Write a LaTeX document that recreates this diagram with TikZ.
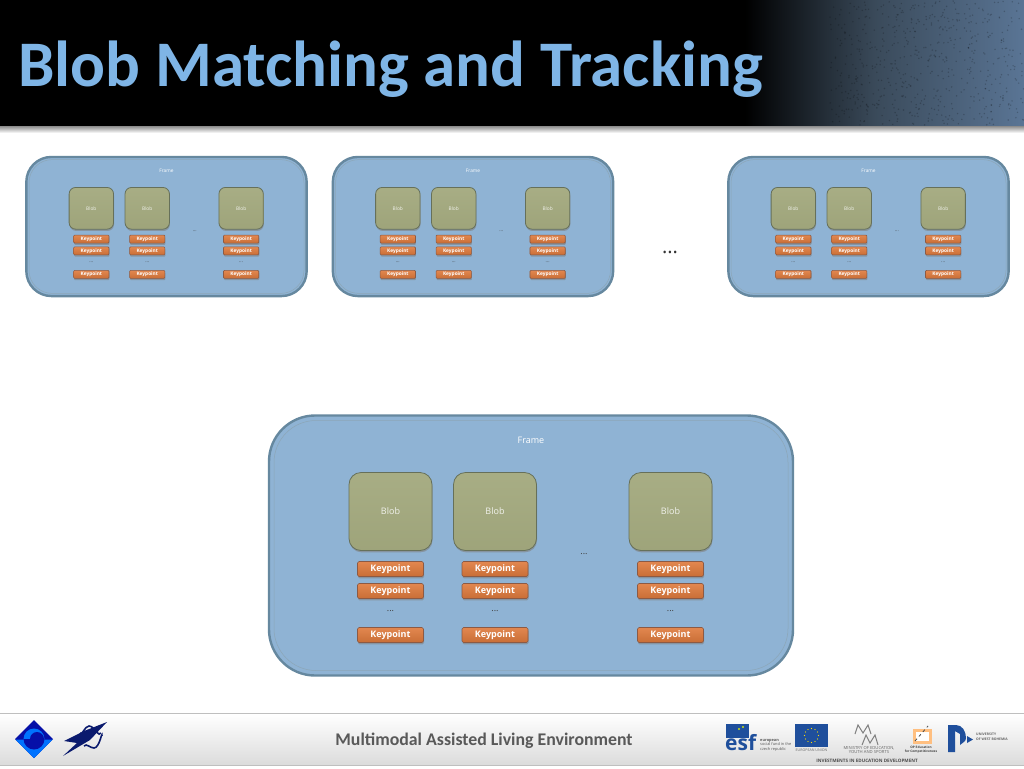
\documentclass[tikz,border=0pt]{standalone}
\usepackage{fontspec}
\setmainfont{Open Sans}
\newfontfamily\headfont{Carlito}
\usetikzlibrary{shapes.geometric, positioning, shadows}
\definecolor{titleblue}{HTML}{7FB5E6}
\definecolor{frameblue}{HTML}{8FB3D4}
\definecolor{frameedge}{HTML}{66889F}
\definecolor{blobgreen}{HTML}{A3A97E}
\definecolor{blobedge}{HTML}{66705A}
\definecolor{keyorange}{HTML}{DF7A3C}
\definecolor{keyedge}{HTML}{8C5A44}
\definecolor{navy}{HTML}{0A1A6E}
\definecolor{esfblue}{HTML}{1F4F9C}
\definecolor{steelmid}{HTML}{3A4A5A}
\definecolor{steelend}{HTML}{5A7595}

\tikzset{
  framebox/.style={rectangle, draw=frameedge, fill=frameblue, line width=2.4pt, rounded corners=46pt, minimum width=524pt, minimum height=260pt, inner sep=0pt},
  frameline/.style={rectangle, draw=frameedge!75!white, line width=0.5pt, rounded corners=42pt, minimum width=514pt, minimum height=250pt, inner sep=0pt},
  blob/.style={rectangle, draw=blobedge, top color=blobgreen!95!white, bottom color=blobgreen!97!black, line width=0.8pt, rounded corners=12pt, minimum width=83pt, minimum height=78pt, inner sep=0pt, text=white!85!blobgreen, font=\fontsize{9}{9}\selectfont, drop shadow={shadow xshift=0.5pt, shadow yshift=-1.8pt, opacity=0.6}},
  keypoint/.style={rectangle, draw=keyedge, top color=keyorange!90!white, bottom color=keyorange!90!black, line width=0.6pt, rounded corners=1.5pt, minimum width=66pt, minimum height=15pt, inner sep=0pt, text=white, font=\fontsize{9}{9}\selectfont\bfseries, drop shadow={shadow xshift=0.5pt, shadow yshift=-1.8pt, opacity=0.6}},
  note/.style={inner sep=0pt, text=white, font=\fontsize{9}{9}\selectfont},
  dots/.style={inner sep=0pt, text=black!75, font=\fontsize{9}{9}\selectfont},
  tinyt/.style={inner sep=0pt, align=center, text=black!60, font=\fontsize{4.2}{4.6}\selectfont},
  smallset/.style={scale=0.535, transform shape,
    framebox/.append style={rounded corners=25pt},
    frameline/.append style={rounded corners=23pt},
    blob/.append style={rounded corners=6.5pt},
    keypoint/.append style={rounded corners=1pt}},
  frameset/.pic={
    \node[framebox] (-frame) at (0,0) {};
    \node[frameline] (-line) at (0,0) {};
    \node[note] (-title) at (0,-105) {Frame};
    \node[dots] (-gap) at (53,9) {...};
    \foreach \col/\cx in {a/-140.5, b/-36, c/139.5} {
      \node[blob] (-blob\col) at (\cx,-34) {Blob};
      \node[keypoint] (-key\col1) at (\cx,23.5) {Keypoint};
      \node[keypoint] (-key\col2) at (\cx,45.5) {Keypoint};
      \node[dots] (-dot\col) at (\cx,66) {...};
      \node[keypoint] (-key\col3) at (\cx,89.5) {Keypoint};
    }
  }
}

\begin{document}
\begin{tikzpicture}[x=1pt, y=-1pt]
\useasboundingbox (0,0) rectangle (1024,768);

% header band
\fill[white] (0,0) rectangle (1024,768);
\fill[black] (0,0) rectangle (745,126);
\shade[left color=black, right color=steelmid] (745,0) rectangle (875,126);
\shade[left color=steelmid, right color=steelend] (875,0) rectangle (1024,126);
\pgfmathsetseed{7}
\foreach \i in {1,...,600} {
  \pgfmathsetmacro{\px}{830+194*rnd}
  \pgfmathsetmacro{\py}{1+124*rnd}
  \fill[black, opacity=0.2] (\px,\py) circle (0.8pt);
}
\shade[top color=black!45, bottom color=white] (0,126) rectangle (1024,133);
\node[anchor=west, inner sep=0pt, text=titleblue, font=\headfont\fontsize{65}{65}\selectfont\bfseries] (title) at (18,69) {Blob Matching and Tracking};

% frames
\pic (top1) at (166.5,226.5) [smallset] {frameset};
\pic (top2) at (473,226.5) [smallset] {frameset};
\pic (top3) at (868.5,226.5) [smallset] {frameset};
\node[inner sep=0pt, text=black!80, font=\fontsize{20}{20}\selectfont] (more) at (670,252) {...};
\pic (main) at (531,545.5) {frameset};

% footer band
\shade[top color=white, bottom color=black!14] (0,714) rectangle (1024,765);
\draw[black!25, line width=0.8pt] (0,713.5) -- (1024,713.5);
\draw[black!25, line width=0.8pt] (0,765.5) -- (1024,765.5);
\node[inner sep=0pt, text=black!65, font=\headfont\fontsize{17.8}{18}\selectfont\bfseries] (project) at (484,741) {Multimodal Assisted Living Environment};

% left logos
\fill[navy!60!blue] (34,720) -- (53,739) -- (34,758) -- (15,739) -- cycle;
\fill[blue!55!cyan] (15.5,739.5) -- (52.5,739.5) -- (34,758) -- cycle;
\begin{scope}
  \clip (14,720) rectangle (54,739);
  \fill[blue!55!cyan] (34,739) circle (10.5pt);
  \fill[navy!60!blue] (37,739) circle (7pt);
\end{scope}
\begin{scope}
  \clip (14,739) rectangle (54,758);
  \fill[navy!60!blue] (34,739) circle (10.5pt);
\end{scope}
\draw[navy, line width=1.6pt] (80,733) to[out=-70, in=180] (89,726) to[out=0, in=-110] (101,733);
\draw[navy, line width=1.6pt] (102,736) to[out=90, in=0] (94,748) to[out=180, in=50] (84,746);
\fill[navy] (107,722) -- (84,731) -- (64,741) -- (77,743) -- (63,756) -- (90,740) -- cycle;

% right logos
\fill[esfblue] (726,724) rectangle (749,738);
\fill[yellow!80!green] (739,729) circle (1.2pt) (743,727) circle (1.2pt);
\node[inner sep=0pt, anchor=west, text=esfblue, font=\fontsize{21}{21}\selectfont\bfseries] (esf) at (725,743) {esf};
\node[tinyt, anchor=west, align=left, text=black!65, font=\fontsize{3.9}{4.6}\selectfont] (esftext) at (760,745) {\textbf{european}\\social fund in the\\czech republic};
\fill[esfblue] (795,724) rectangle (828,747);
\foreach \a in {0,30,...,330} {
  \fill[yellow!80!orange] (811.5,735.5) ++(\a:7) circle (0.6pt);
}
\node[tinyt, font=\fontsize{3.6}{4}\selectfont] (eu) at (811.5,750) {EUROPEAN UNION};
\draw[black!50, line width=1pt] (855,734) -- (858,725) -- (863,733) -- (868,725) -- (871,734);
\draw[black!50, line width=1pt] (862,745) -- (866,735) -- (870,743) -- (875,735) -- (878,745);
\node[tinyt] (ministry) at (869,750) {MINISTRY OF EDUCATION,\\YOUTH AND SPORTS};
\fill[orange!50!white] (913,729) rectangle (932,744);
\fill[white] (916,732) rectangle (929,741);
\draw[black!70, dashed, line width=0.8pt] (915,741) -- (928,726);
\node[tinyt, text=black!75, font=\fontsize{3.2}{4}\selectfont] (opvk) at (921,749.5) {\textbf{OP Education}\\\textbf{for Competitiveness}};
\fill[esfblue] (948,725) -- (956,725) to[out=0, in=90] (966,738) to[out=-90, in=45] (960,745) -- (960,734) -- (955,731) -- (955,752) -- (948,752) -- cycle;
\fill[esfblue] (967,736) -- (973,739.5) -- (967,743) -- cycle;
\node[tinyt, anchor=west, align=left, text=black!60, font=\fontsize{3.4}{4.6}\selectfont] (uwb) at (976,737) {\textbf{UNIVERSITY}\\\textbf{OF WEST BOHEMIA}};
\node[tinyt, text=black!70, font=\fontsize{4.6}{5}\selectfont] (invest) at (867,760.5) {\textbf{INVESTMENTS IN EDUCATION DEVELOPMENT}};
\end{tikzpicture}
\end{document}
